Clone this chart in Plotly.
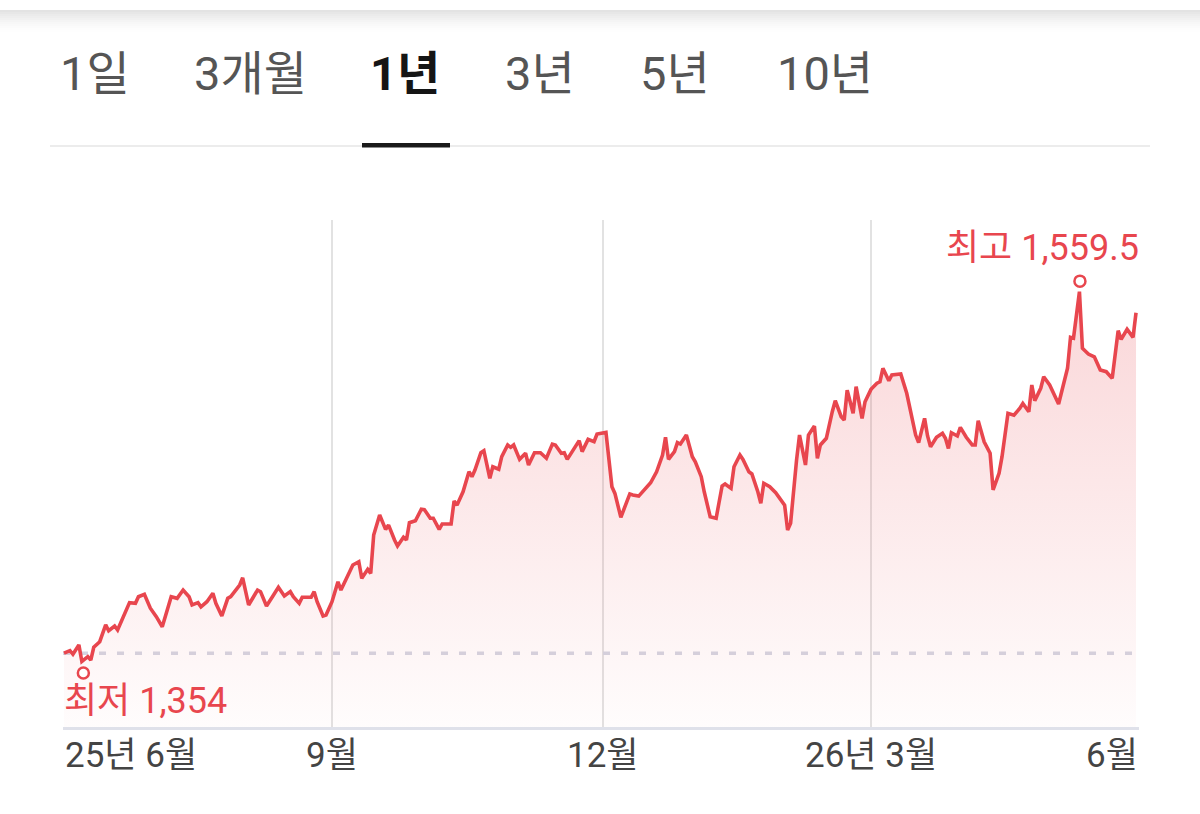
import plotly.graph_objects as go

# ---------------- data ----------------
dates = [
    "2025-06-03", "2025-06-05", "2025-06-06", "2025-06-08", "2025-06-09", "2025-06-11", "2025-06-12", "2025-06-13",
    "2025-06-15", "2025-06-17", "2025-06-18", "2025-06-20", "2025-06-21", "2025-06-23", "2025-06-25", "2025-06-27",
    "2025-06-28", "2025-06-30", "2025-07-02", "2025-07-04", "2025-07-06", "2025-07-08", "2025-07-09", "2025-07-11",
    "2025-07-13", "2025-07-15", "2025-07-16", "2025-07-18", "2025-07-19", "2025-07-21", "2025-07-23", "2025-07-24",
    "2025-07-26", "2025-07-28", "2025-07-29", "2025-08-01", "2025-08-02",
    "2025-08-04", "2025-08-07", "2025-08-08", "2025-08-10", "2025-08-12", "2025-08-14", "2025-08-16", "2025-08-18",
    "2025-08-19", "2025-08-21", "2025-08-22", "2025-08-25", "2025-08-26", "2025-08-27", "2025-08-29", "2025-08-30",
    "2025-09-01", "2025-09-03", "2025-09-04", "2025-09-06", "2025-09-08", "2025-09-10", "2025-09-11", "2025-09-13",
    "2025-09-14", "2025-09-15", "2025-09-17", "2025-09-19", "2025-09-20", "2025-09-22", "2025-09-23", "2025-09-25",
    "2025-09-26", "2025-09-27", "2025-09-29", "2025-10-01", "2025-10-02", "2025-10-04",
    "2025-10-05", "2025-10-07", "2025-10-08", "2025-10-11", "2025-10-12", "2025-10-13", "2025-10-15", "2025-10-17",
    "2025-10-18", "2025-10-19", "2025-10-21", "2025-10-22", "2025-10-24", "2025-10-25", "2025-10-27", "2025-10-28",
    "2025-10-30", "2025-10-31", "2025-11-01", "2025-11-03", "2025-11-05", "2025-11-06", "2025-11-08", "2025-11-10",
    "2025-11-12", "2025-11-14", "2025-11-15", "2025-11-17", "2025-11-18", "2025-11-19", "2025-11-23", "2025-11-24",
    "2025-11-26", "2025-11-28", "2025-11-29", "2025-12-02", "2025-12-04",
    "2025-12-05", "2025-12-07", "2025-12-10", "2025-12-11", "2025-12-13", "2025-12-15", "2025-12-17", "2025-12-19",
    "2025-12-21", "2025-12-22", "2025-12-23", "2025-12-25", "2025-12-26", "2025-12-27", "2025-12-29", "2025-12-31",
    "2026-01-01", "2026-01-03", "2026-01-04", "2026-01-06", "2026-01-08", "2026-01-10", "2026-01-11", "2026-01-13",
    "2026-01-14", "2026-01-16", "2026-01-17", "2026-01-19", "2026-01-20", "2026-01-22", "2026-01-23", "2026-01-24",
    "2026-01-26", "2026-01-28", "2026-01-29", "2026-01-31", "2026-02-01", "2026-02-02", "2026-02-04", "2026-02-05",
    "2026-02-07", "2026-02-08", "2026-02-10", "2026-02-11", "2026-02-12", "2026-02-14", "2026-02-16", "2026-02-17",
    "2026-02-19", "2026-02-20", "2026-02-21", "2026-02-23", "2026-02-24", "2026-02-26", "2026-02-27", "2026-03-01",
    "2026-03-03", "2026-03-04", "2026-03-05", "2026-03-07", "2026-03-08", "2026-03-11", "2026-03-13", "2026-03-15",
    "2026-03-16", "2026-03-17", "2026-03-19", "2026-03-20", "2026-03-21", "2026-03-23", "2026-03-25", "2026-03-26",
    "2026-03-27", "2026-03-28", "2026-03-30", "2026-03-31", "2026-04-02", "2026-04-04", "2026-04-05", "2026-04-06",
    "2026-04-08",
    "2026-04-10", "2026-04-11", "2026-04-13", "2026-04-14", "2026-04-16", "2026-04-18", "2026-04-20", "2026-04-21",
    "2026-04-23", "2026-04-24", "2026-04-25", "2026-04-27", "2026-04-28", "2026-04-30", "2026-05-03", "2026-05-05",
    "2026-05-06", "2026-05-07", "2026-05-08", "2026-05-10", "2026-05-11", "2026-05-13", "2026-05-15", "2026-05-17",
    "2026-05-19", "2026-05-21", "2026-05-22", "2026-05-23", "2026-05-24", "2026-05-26", "2026-05-28", "2026-05-29",
]

values = [
    1358.6, 1360.0, 1358.0, 1363.2, 1354.0, 1356.7, 1354.8, 1361.9, 1365.0, 1374.3, 1371.1, 1373.7, 1371.5,
    1378.9, 1386.7, 1386.3, 1390.0, 1391.3, 1383.6, 1378.9, 1373.3, 1384.4, 1390.0, 1389.1, 1393.7, 1390.0,
    1385.4, 1386.7, 1384.4, 1387.2, 1391.9, 1386.3, 1379.3, 1389.1, 1390.0, 1396.5, 1400.5,
    1385.4, 1393.7, 1392.8, 1384.8, 1390.0, 1395.2, 1390.4, 1392.8, 1390.0, 1386.3, 1389.7, 1389.7, 1392.8,
    1387.2, 1379.3, 1379.8, 1387.2, 1398.3, 1393.7, 1401.1, 1407.6, 1409.4, 1400.2, 1405.2, 1403.0, 1424.3,
    1435.4, 1427.4, 1429.8, 1421.5, 1418.2, 1423.0, 1421.5, 1431.1, 1432.2, 1438.6, 1438.4, 1433.6,
    1433.6, 1427.4, 1430.4, 1430.4, 1443.2, 1440.9, 1448.3, 1459.4, 1456.7, 1460.4, 1470.0, 1471.1, 1455.8,
    1462.2, 1460.8, 1467.8, 1474.3, 1473.0, 1474.3, 1466.3, 1469.7, 1463.2, 1470.0, 1470.0, 1466.9, 1474.8,
    1474.3, 1469.7, 1470.0, 1466.3, 1476.7, 1470.6, 1477.4, 1476.1, 1480.4, 1481.3, 1451.1,
    1447.4, 1434.1, 1447.1, 1446.5, 1445.9, 1449.7, 1453.3, 1459.4, 1468.7, 1478.6, 1466.3, 1470.6, 1475.6,
    1474.8, 1479.8, 1467.8, 1465.0, 1456.7, 1448.3, 1434.4, 1433.6, 1451.5, 1452.6, 1450.2, 1462.2, 1468.7,
    1466.3, 1459.4, 1458.2, 1448.3, 1441.9, 1453.0, 1451.1, 1447.8, 1445.6, 1440.9, 1427.1, 1430.8, 1465.9,
    1479.8,
    1463.2, 1479.8, 1484.8, 1466.9, 1474.3, 1478.0, 1492.8, 1498.9, 1490.0, 1488.2, 1504.8, 1491.9, 1506.7,
    1489.1, 1498.3, 1505.2, 1508.6, 1509.4, 1516.9, 1510.0, 1513.2, 1513.7, 1503.0, 1486.3, 1479.8, 1475.6,
    1489.1, 1479.3, 1473.3, 1478.6, 1480.8, 1478.0, 1472.4, 1481.1, 1479.3, 1484.1, 1478.6, 1474.3, 1474.3,
    1487.8, 1476.1,
    1469.7, 1449.3, 1458.6, 1467.8, 1491.9, 1490.9, 1494.7, 1497.4, 1492.8, 1507.6, 1498.9, 1505.8, 1512.2,
    1507.6, 1497.1, 1509.4, 1516.9, 1534.1, 1533.6, 1559.5, 1528.0, 1524.8, 1523.3, 1515.9, 1515.0, 1511.3,
    1526.1, 1537.8, 1533.0, 1538.6, 1534.1, 1547.8,
]

low_date, low_value, low_label = "2025-06-09", 1354, "최저 1,354"
high_date, high_value, high_label = "2026-05-10", 1559.5, "최고 1,559.5"
base_value = 1358.6

grid_dates = ["2025-09-01", "2025-12-01", "2026-03-01"]
tick_labels = ["25년 6월", "9월", "12월", "26년 3월", "6월"]
tabs = ["1일", "3개월", "1년", "3년", "5년", "10년"]
active_tab = "1년"

# ---------------- layout helpers ----------------
W, H = 1200, 814
PL, PR, PT, PB = 63, 1139, 220, 727
X_RANGE = ["2025-06-02 16:00", "2026-05-30 00:00"]
Y_RANGE = [1317.6, 1599.3]

RED = "#e8464e"
FONT = "Roboto, Noto Sans CJK KR"


def fx(px):
    return (px - PL) / (PR - PL)


def fy(py):
    return (PB - py) / (PB - PT)


fig = go.Figure()

# dashed reference line (start value), drawn under the series
fig.add_trace(go.Scatter(
    x=X_RANGE, y=[base_value, base_value], mode="lines",
    line=dict(color="#d4d6e2", width=3.5, dash="7px,11px"),
    hoverinfo="skip", showlegend=False,
))

fig.add_trace(go.Scatter(
    x=dates, y=values, mode="lines",
    line=dict(color=RED, width=3.6),
    fill="tozeroy",
    fillgradient=dict(
        type="vertical", start=Y_RANGE[0], stop=high_value,
        colorscale=[[0, "rgba(232,71,79,0.015)"], [1, "rgba(232,71,79,0.22)"]],
    ),
    hoverinfo="skip", showlegend=False,
))

shapes = []
# low / high circles
shapes.append(dict(type="circle", xref="x", yref="y", xsizemode="pixel", ysizemode="pixel",
                   xanchor=low_date, yanchor=low_value, x0=-4, x1=7, y0=-17, y1=-6,
                   line=dict(color=RED, width=2.5), fillcolor="white"))
shapes.append(dict(type="circle", xref="x", yref="y", xsizemode="pixel", ysizemode="pixel",
                   xanchor=high_date, yanchor=high_value, x0=-5, x1=6, y0=5, y1=16,
                   line=dict(color=RED, width=2.5), fillcolor="white"))
# tab separator and active underline
shapes.append(dict(type="line", xref="paper", yref="paper", x0=fx(50), x1=fx(1150), y0=fy(146), y1=fy(146),
                   line=dict(color="#ececec", width=2)))
shapes.append(dict(type="rect", xref="paper", yref="paper", x0=fx(362), x1=fx(450), y0=fy(143), y1=fy(147.5),
                   line=dict(width=0), fillcolor="#1a1a1a"))
# top header shadow
for i in range(11):
    a = 0.11 * (1 - i / 11) ** 1.6
    shapes.append(dict(type="rect", xref="paper", yref="paper", x0=fx(0), x1=fx(W),
                       y0=fy(10 + 2 * i), y1=fy(12 + 2 * i), line=dict(width=0),
                       fillcolor=f"rgba(0,0,0,{a:.4f})", layer="above"))

annotations = []
tab_x = [95, 250, 405, 540, 675, 825]
for t, cx in zip(tabs, tab_x):
    active = t == active_tab
    annotations.append(dict(
        text=f"<b>{t}</b>" if active else t, xref="paper", yref="paper",
        x=fx(cx), y=fy(73), xanchor="center", yanchor="middle", showarrow=False,
        font=dict(family=FONT, size=47, color="#151515" if active else "#555555"),
    ))

tick_font = dict(family=FONT, size=35, color="#444444")
annotations.append(dict(text=tick_labels[0], xref="paper", yref="paper", x=fx(63), y=fy(755),
                        xanchor="left", yanchor="middle", showarrow=False, font=tick_font))
for d, lab in zip(grid_dates, tick_labels[1:4]):
    annotations.append(dict(text=lab, xref="x", yref="paper", x=d, y=fy(755),
                            xanchor="center", yanchor="middle", showarrow=False, font=tick_font))
annotations.append(dict(text=tick_labels[4], xref="paper", yref="paper", x=fx(1140), y=fy(755),
                        xanchor="right", yanchor="middle", showarrow=False, font=tick_font))

red_font = dict(family=FONT, size=36, color=RED)
annotations.append(dict(text=low_label, xref="paper", yref="paper", x=fx(62), y=fy(701),
                        xanchor="left", yanchor="middle", showarrow=False, font=red_font))
annotations.append(dict(text=high_label, xref="paper", yref="paper", x=fx(1141), y=fy(248),
                        xanchor="right", yanchor="middle", showarrow=False, font=red_font))

fig.update_layout(
    width=W, height=H,
    margin=dict(l=PL, r=W - PR, t=PT, b=H - PB, pad=0),
    paper_bgcolor="white", plot_bgcolor="white",
    shapes=shapes, annotations=annotations,
    showlegend=False,
    xaxis=dict(type="date", range=X_RANGE, tickvals=grid_dates, showticklabels=False, ticks="",
               showgrid=True, gridcolor="#e2e2e2", gridwidth=2, zeroline=False,
               showline=True, linecolor="#dfe1ea", linewidth=2.5, fixedrange=True),
    yaxis=dict(range=Y_RANGE, visible=False, showgrid=False, zeroline=False, fixedrange=True),
)

fig.write_html("out.html", config=dict(displayModeBar=False))
